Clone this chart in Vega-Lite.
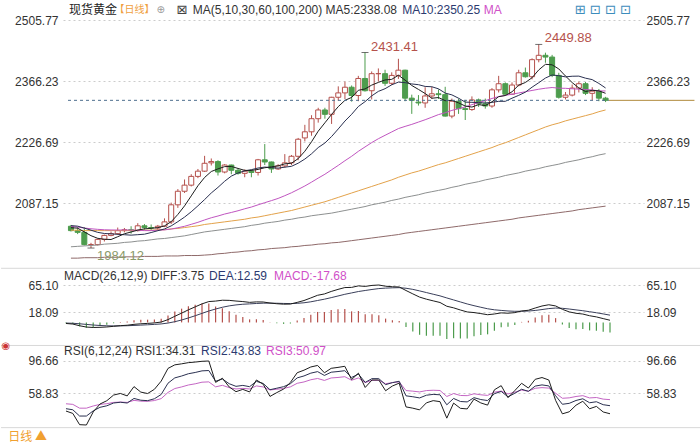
{
"$schema": "https://vega.github.io/schema/vega-lite/v6.json",
"padding": 0,
"spacing": 0,
"bounds": "flush",
"background": "#ffffff",
"config": {
  "view": {"stroke": null},
  "font": "Liberation Sans",
  "axis": {"labelFont": "Liberation Sans", "labelFontSize": 12, "labelColor": "#333333", "ticks": false, "domain": false, "title": null, "gridColor": "#cccccc", "gridDash": [2, 3], "gridWidth": 1}
},
"datasets": {
"k": [
{"i":0,"o":2034,"h":2037,"l":2022,"c":2024,"m5":2030.6,"m10":2035.4,"m30":2033.5,"m60":2025,"m100":1987,"m200":1961,"dif":-1.89,"dea":-1.18,"macd":-1.42,"r1":37.5,"r2":40.3,"r3":46.1},
{"i":1,"o":2024,"h":2032,"l":2016,"c":2020,"m5":2029.6,"m10":2034.2,"m30":2032.1,"m60":2025,"m100":1988,"m200":1961,"dif":-2.88,"dea":-1.52,"macd":-2.72,"r1":34.7,"r2":39.0,"r3":45.4},
{"i":2,"o":2020,"h":2032,"l":1990,"c":1992,"m5":2021.0,"m10":2029.7,"m30":2029.9,"m60":2024,"m100":1989,"m200":1962,"dif":-5.85,"dea":-2.39,"macd":-6.92,"r1":21.4,"r2":31.6,"r3":40.9},
{"i":3,"o":1992,"h":1996,"l":1984.12,"c":1992,"m5":2012.4,"m10":2025.0,"m30":2028.2,"m60":2024,"m100":1990,"m200":1962,"dif":-8.11,"dea":-3.53,"macd":-9.16,"r1":21.0,"r2":31.6,"r3":40.9},
{"i":4,"o":1992,"h":2006,"l":1990,"c":2004,"m5":2006.4,"m10":2020.0,"m30":2026.9,"m60":2024,"m100":1991,"m200":1962,"dif":-8.84,"dea":-4.59,"macd":-8.50,"r1":36.4,"r2":37.7,"r3":43.5},
{"i":5,"o":2004,"h":2015,"l":1999,"c":2013,"m5":2004.2,"m10":2017.4,"m30":2025.9,"m60":2024,"m100":1993,"m200":1963,"dif":-8.59,"dea":-5.39,"macd":-6.40,"r1":45.8,"r2":41.9,"r3":45.4},
{"i":6,"o":2013,"h":2022,"l":2011,"c":2017,"m5":2003.6,"m10":2016.6,"m30":2025.5,"m60":2024,"m100":1994,"m200":1963,"dif":-7.97,"dea":-5.91,"macd":-4.12,"r1":49.7,"r2":43.7,"r3":46.2},
{"i":7,"o":2017,"h":2031,"l":2014,"c":2024,"m5":2010.0,"m10":2015.5,"m30":2025.3,"m60":2024,"m100":1995,"m200":1963,"dif":-6.84,"dea":-6.10,"macd":-1.48,"r1":56.4,"r2":47.0,"r3":47.7},
{"i":8,"o":2024,"h":2030,"l":2020,"c":2026,"m5":2016.8,"m10":2014.6,"m30":2025.4,"m60":2024,"m100":1997,"m200":1964,"dif":-5.72,"dea":-6.02,"macd":0.60,"r1":58.3,"r2":47.9,"r3":48.1},
{"i":9,"o":2026,"h":2034,"l":2017,"c":2024,"m5":2020.8,"m10":2013.6,"m30":2025.2,"m60":2024,"m100":1998,"m200":1964,"dif":-4.93,"dea":-5.80,"macd":1.74,"r1":55.4,"r2":47.0,"r3":47.7},
{"i":10,"o":2024,"h":2041,"l":2022,"c":2035,"m5":2025.2,"m10":2014.7,"m30":2024.8,"m60":2025,"m100":2000,"m200":1964,"dif":-3.38,"dea":-5.32,"macd":3.88,"r1":66.4,"r2":52.4,"r3":50.1},
{"i":11,"o":2035,"h":2039,"l":2026,"c":2031,"m5":2028.0,"m10":2015.8,"m30":2024.0,"m60":2025,"m100":2001,"m200":1965,"dif":-2.44,"dea":-4.74,"macd":4.60,"r1":59.9,"r2":50.3,"r3":49.2},
{"i":12,"o":2031,"h":2038,"l":2025,"c":2030,"m5":2029.2,"m10":2019.6,"m30":2024.0,"m60":2025,"m100":2003,"m200":1965,"dif":-1.76,"dea":-4.14,"macd":4.76,"r1":58.2,"r2":49.8,"r3":49.0},
{"i":13,"o":2030,"h":2037,"l":2024,"c":2034,"m5":2030.8,"m10":2023.8,"m30":2025.0,"m60":2026,"m100":2005,"m200":1965,"dif":-0.89,"dea":-3.49,"macd":5.20,"r1":63.2,"r2":52.0,"r3":49.9},
{"i":14,"o":2034,"h":2052,"l":2032,"c":2044,"m5":2034.8,"m10":2027.8,"m30":2025.7,"m60":2026,"m100":2006,"m200":1966,"dif":0.59,"dea":-2.67,"macd":6.52,"r1":72.9,"r2":57.1,"r3":52.2},
{"i":15,"o":2044,"h":2088,"l":2039,"c":2083,"m5":2044.4,"m10":2034.8,"m30":2027.5,"m60":2028,"m100":2008,"m200":1966,"dif":4.86,"dea":-1.16,"macd":12.04,"r1":87.9,"r2":70.4,"r3":59.5},
{"i":16,"o":2083,"h":2119,"l":2076,"c":2114,"m5":2061.0,"m10":2044.5,"m30":2030.6,"m60":2029,"m100":2010,"m200":1966,"dif":10.62,"dea":1.20,"macd":18.84,"r1":92.1,"r2":76.7,"r3":64.1},
{"i":17,"o":2114,"h":2141,"l":2110,"c":2128,"m5":2080.6,"m10":2054.9,"m30":2033.9,"m60":2031,"m100":2012,"m200":1967,"dif":16.13,"dea":4.19,"macd":23.88,"r1":93.3,"r2":78.9,"r3":66.0},
{"i":18,"o":2128,"h":2153,"l":2125,"c":2148,"m5":2103.4,"m10":2067.1,"m30":2038.4,"m60":2033,"m100":2015,"m200":1967,"dif":21.85,"dea":7.72,"macd":28.26,"r1":94.7,"r2":81.6,"r3":68.3},
{"i":19,"o":2148,"h":2165,"l":2144,"c":2160,"m5":2126.6,"m10":2080.7,"m30":2043.0,"m60":2035,"m100":2018,"m200":1967,"dif":27.05,"dea":11.59,"macd":30.92,"r1":95.4,"r2":83.1,"r3":69.7},
{"i":20,"o":2160,"h":2195,"l":2158,"c":2178,"m5":2145.6,"m10":2095.0,"m30":2048.4,"m60":2038,"m100":2021,"m200":1968,"dif":32.24,"dea":15.72,"macd":33.04,"r1":96.3,"r2":85.0,"r3":71.6},
{"i":21,"o":2179,"h":2189,"l":2173,"c":2182,"m5":2159.2,"m10":2110.1,"m30":2053.4,"m60":2040,"m100":2023,"m200":1969,"dif":36.26,"dea":19.83,"macd":32.86,"r1":96.66,"r2":85.4,"r3":72.0},
{"i":22,"o":2182,"h":2185,"l":2150,"c":2158,"m5":2165.2,"m10":2122.9,"m30":2057.4,"m60":2042,"m100":2025,"m200":1971,"dif":37.09,"dea":23.28,"macd":27.62,"r1":71.4,"r2":72.7,"r3":66.1},
{"i":23,"o":2158,"h":2176,"l":2155,"c":2174,"m5":2170.4,"m10":2136.9,"m30":2061.9,"m60":2044,"m100":2027,"m200":1972,"dif":38.58,"dea":26.34,"macd":24.48,"r1":76.3,"r2":75.4,"r3":67.9},
{"i":24,"o":2174,"h":2175,"l":2153,"c":2162,"m5":2170.8,"m10":2148.7,"m30":2065.5,"m60":2046,"m100":2029,"m200":1974,"dif":38.36,"dea":28.74,"macd":19.24,"r1":66.0,"r2":69.8,"r3":65.2},
{"i":25,"o":2162,"h":2166,"l":2152,"c":2155,"m5":2166.2,"m10":2155.9,"m30":2069.4,"m60":2048,"m100":2031,"m200":1975,"dif":37.19,"dea":30.43,"macd":13.52,"r1":60.4,"r2":66.7,"r3":63.6},
{"i":26,"o":2155,"h":2164,"l":2146,"c":2160,"m5":2161.8,"m10":2160.5,"m30":2073.9,"m60":2050,"m100":2033,"m200":1977,"dif":36.25,"dea":31.59,"macd":9.32,"r1":63.1,"r2":67.8,"r3":64.3},
{"i":27,"o":2160,"h":2163,"l":2146,"c":2157,"m5":2161.6,"m10":2163.4,"m30":2077.9,"m60":2053,"m100":2036,"m200":1978,"dif":34.86,"dea":32.24,"macd":5.24,"r1":60.1,"r2":66.3,"r3":63.6},
{"i":28,"o":2157,"h":2188,"l":2150,"c":2186,"m5":2164.0,"m10":2167.2,"m30":2083.0,"m60":2055,"m100":2038,"m200":1980,"dif":35.69,"dea":32.93,"macd":5.52,"r1":74.2,"r2":72.6,"r3":67.2},
{"i":29,"o":2186,"h":2222,"l":2174,"c":2181,"m5":2167.8,"m10":2169.3,"m30":2087.9,"m60":2058,"m100":2041,"m200":1981,"dif":35.53,"dea":33.45,"macd":4.16,"r1":69.2,"r2":70.1,"r3":66.0},
{"i":30,"o":2181,"h":2182,"l":2156,"c":2165,"m5":2169.8,"m10":2168.0,"m30":2092.6,"m60":2061,"m100":2043,"m200":1983,"dif":33.73,"dea":33.51,"macd":0.44,"r1":54.8,"r2":62.7,"r3":62.4},
{"i":31,"o":2165,"h":2176,"l":2163,"c":2172,"m5":2172.2,"m10":2167.0,"m30":2097.6,"m60":2064,"m100":2045,"m200":1984,"dif":32.49,"dea":33.31,"macd":-1.64,"r1":59.3,"r2":64.5,"r3":63.3},
{"i":32,"o":2172,"h":2199,"l":2168,"c":2179,"m5":2176.6,"m10":2169.1,"m30":2103.9,"m60":2067,"m100":2048,"m200":1985,"dif":31.70,"dea":32.99,"macd":-2.58,"r1":63.5,"r2":66.3,"r3":64.2},
{"i":33,"o":2179,"h":2197,"l":2174,"c":2194,"m5":2178.2,"m10":2171.1,"m30":2110.6,"m60":2070,"m100":2050,"m200":1987,"dif":31.92,"dea":32.78,"macd":-1.72,"r1":71.3,"r2":69.8,"r3":66.1},
{"i":34,"o":2194,"h":2236,"l":2185,"c":2233,"m5":2188.6,"m10":2178.2,"m30":2118.2,"m60":2074,"m100":2053,"m200":1988,"dif":34.83,"dea":33.19,"macd":3.28,"r1":82.8,"r2":76.7,"r3":70.3},
{"i":35,"o":2236,"h":2266,"l":2228,"c":2250,"m5":2205.6,"m10":2187.7,"m30":2126.1,"m60":2078,"m100":2055,"m200":1990,"dif":38.07,"dea":34.17,"macd":7.80,"r1":85.8,"r2":79.0,"r3":71.9},
{"i":36,"o":2250,"h":2288,"l":2241,"c":2280,"m5":2227.2,"m10":2199.7,"m30":2134.9,"m60":2082,"m100":2058,"m200":1991,"dif":42.57,"dea":35.85,"macd":13.44,"r1":89.6,"r2":82.3,"r3":74.5},
{"i":37,"o":2280,"h":2305,"l":2271,"c":2300,"m5":2251.4,"m10":2214.0,"m30":2144.1,"m60":2086,"m100":2060,"m200":1993,"dif":47.21,"dea":38.12,"macd":18.18,"r1":91.4,"r2":84.1,"r3":76.0},
{"i":38,"o":2300,"h":2305,"l":2280,"c":2290,"m5":2270.6,"m10":2224.4,"m30":2152.9,"m60":2090,"m100":2062,"m200":1994,"dif":49.51,"dea":40.40,"macd":18.22,"r1":82.7,"r2":79.6,"r3":73.7},
{"i":39,"o":2290,"h":2330,"l":2268,"c":2329,"m5":2289.8,"m10":2239.2,"m30":2163.1,"m60":2095,"m100":2064,"m200":1996,"dif":53.85,"dea":43.09,"macd":21.52,"r1":88.0,"r2":83.4,"r3":76.6},
{"i":40,"o":2329,"h":2354,"l":2321,"c":2339,"m5":2307.6,"m10":2256.6,"m30":2173.2,"m60":2100,"m100":2067,"m200":1997,"dif":57.44,"dea":45.96,"macd":22.96,"r1":89.1,"r2":84.2,"r3":77.2},
{"i":41,"o":2339,"h":2365,"l":2325,"c":2352,"m5":2322.0,"m10":2274.6,"m30":2183.9,"m60":2105,"m100":2070,"m200":1999,"dif":60.63,"dea":48.89,"macd":23.48,"r1":90.4,"r2":85.2,"r3":78.1},
{"i":42,"o":2352,"h":2356,"l":2319,"c":2333,"m5":2328.6,"m10":2290.0,"m30":2194.0,"m60":2110,"m100":2073,"m200":2001,"dif":60.93,"dea":51.30,"macd":19.26,"r1":74.7,"r2":77.2,"r3":73.9},
{"i":43,"o":2333,"h":2378,"l":2320,"c":2372,"m5":2345.0,"m10":2307.8,"m30":2205.3,"m60":2115,"m100":2076,"m200":2003,"dif":63.57,"dea":53.75,"macd":19.64,"r1":82.3,"r2":81.2,"r3":76.6},
{"i":44,"o":2372,"h":2431.41,"l":2342,"c":2344,"m5":2348.0,"m10":2318.9,"m30":2215.3,"m60":2120,"m100":2079,"m200":2005,"dif":62.68,"dea":55.54,"macd":14.28,"r1":65.4,"r2":71.4,"r3":71.1},
{"i":45,"o":2344,"h":2388,"l":2324,"c":2383,"m5":2356.8,"m10":2332.2,"m30":2225.3,"m60":2125,"m100":2083,"m200":2007,"dif":64.39,"dea":57.31,"macd":14.16,"r1":74.2,"r2":75.8,"r3":73.8},
{"i":46,"o":2383,"h":2395,"l":2365,"c":2383,"m5":2363.0,"m10":2342.5,"m30":2234.2,"m60":2130,"m100":2086,"m200":2009,"dif":65.10,"dea":58.85,"macd":12.50,"r1":74.2,"r2":75.8,"r3":73.8},
{"i":47,"o":2383,"h":2392,"l":2355,"c":2361,"m5":2368.6,"m10":2348.6,"m30":2242.0,"m60":2135,"m100":2089,"m200":2011,"dif":62.96,"dea":59.67,"macd":6.58,"r1":61.5,"r2":68.7,"r3":69.8},
{"i":48,"o":2361,"h":2386,"l":2357,"c":2379,"m5":2370.0,"m10":2357.5,"m30":2249.7,"m60":2140,"m100":2093,"m200":2013,"dif":62.10,"dea":60.16,"macd":3.88,"r1":67.1,"r2":71.1,"r3":71.1},
{"i":49,"o":2379,"h":2417,"l":2371,"c":2391,"m5":2379.4,"m10":2363.7,"m30":2257.4,"m60":2146,"m100":2096,"m200":2015,"dif":61.66,"dea":60.46,"macd":2.40,"r1":70.5,"r2":72.7,"r3":72.0},
{"i":50,"o":2391,"h":2392,"l":2320,"c":2327,"m5":2368.2,"m10":2362.5,"m30":2262.4,"m60":2151,"m100":2100,"m200":2018,"dif":55.51,"dea":59.47,"macd":-7.92,"r1":42.4,"r2":55.5,"r3":61.7},
{"i":51,"o":2327,"h":2335,"l":2291,"c":2322,"m5":2356.0,"m10":2359.5,"m30":2267.0,"m60":2156,"m100":2103,"m200":2020,"dif":49.67,"dea":57.51,"macd":-15.68,"r1":40.9,"r2":54.4,"r3":61.0},
{"i":52,"o":2318,"h":2334,"l":2310,"c":2316,"m5":2347.0,"m10":2357.8,"m30":2272.3,"m60":2160,"m100":2106,"m200":2022,"dif":44.04,"dea":54.82,"macd":-21.56,"r1":38.9,"r2":53.0,"r3":60.1},
{"i":53,"o":2316,"h":2352,"l":2305,"c":2332,"m5":2337.6,"m10":2353.8,"m30":2277.6,"m60":2165,"m100":2110,"m200":2024,"dif":40.41,"dea":51.94,"macd":-23.06,"r1":47.2,"r2":56.2,"r3":61.7},
{"i":54,"o":2332,"h":2353,"l":2325,"c":2337,"m5":2326.8,"m10":2353.1,"m30":2283.4,"m60":2170,"m100":2113,"m200":2026,"dif":37.50,"dea":49.05,"macd":-23.10,"r1":49.8,"r2":57.2,"r3":62.1},
{"i":55,"o":2337,"h":2347,"l":2325,"c":2335,"m5":2328.4,"m10":2348.3,"m30":2289.4,"m60":2175,"m100":2116,"m200":2028,"dif":34.64,"dea":46.17,"macd":-23.06,"r1":48.6,"r2":56.7,"r3":61.8},
{"i":56,"o":2335,"h":2353,"l":2285,"c":2286,"m5":2321.2,"m10":2338.6,"m30":2293.6,"m60":2179,"m100":2119,"m200":2030,"dif":28.09,"dea":42.55,"macd":-28.92,"r1":29.1,"r2":44.9,"r3":54.7},
{"i":57,"o":2286,"h":2326,"l":2281,"c":2320,"m5":2322.0,"m10":2334.5,"m30":2299.0,"m60":2184,"m100":2123,"m200":2032,"dif":25.35,"dea":39.11,"macd":-27.52,"r1":46.9,"r2":52.4,"r3":58.2},
{"i":58,"o":2320,"h":2326,"l":2291,"c":2303,"m5":2316.2,"m10":2326.9,"m30":2302.9,"m60":2189,"m100":2126,"m200":2034,"dif":21.56,"dea":35.60,"macd":-28.08,"r1":40.7,"r2":48.8,"r3":55.9},
{"i":59,"o":2303,"h":2323,"l":2277,"c":2301,"m5":2309.0,"m10":2317.9,"m30":2306.9,"m60":2194,"m100":2130,"m200":2036,"dif":18.18,"dea":32.12,"macd":-27.88,"r1":40.0,"r2":48.3,"r3":55.7},
{"i":60,"o":2301,"h":2331,"l":2298,"c":2323,"m5":2306.6,"m10":2317.5,"m30":2312.2,"m60":2199,"m100":2133,"m200":2038,"dif":17.09,"dea":29.11,"macd":-24.04,"r1":51.6,"r2":53.3,"r3":57.9},
{"i":61,"o":2323,"h":2326,"l":2307,"c":2314,"m5":2312.2,"m10":2316.7,"m30":2316.9,"m60":2204,"m100":2136,"m200":2040,"dif":15.32,"dea":26.35,"macd":-22.06,"r1":47.1,"r2":51.1,"r3":56.7},
{"i":62,"o":2314,"h":2326,"l":2303,"c":2309,"m5":2310.0,"m10":2316.0,"m30":2321.3,"m60":2209,"m100":2140,"m200":2042,"dif":13.36,"dea":23.75,"macd":-20.78,"r1":44.5,"r2":49.9,"r3":56.0},
{"i":63,"o":2309,"h":2350,"l":2305,"c":2346,"m5":2318.6,"m10":2317.4,"m30":2326.3,"m60":2214,"m100":2143,"m200":2044,"dif":14.62,"dea":21.92,"macd":-14.60,"r1":62.6,"r2":58.0,"r3":59.8},
{"i":64,"o":2346,"h":2378,"l":2340,"c":2360,"m5":2330.4,"m10":2319.7,"m30":2330.6,"m60":2220,"m100":2146,"m200":2046,"dif":16.56,"dea":20.85,"macd":-8.58,"r1":67.5,"r2":60.7,"r3":61.1},
{"i":65,"o":2360,"h":2363,"l":2332,"c":2336,"m5":2333.0,"m10":2319.8,"m30":2333.4,"m60":2225,"m100":2150,"m200":2048,"dif":15.98,"dea":19.88,"macd":-7.80,"r1":53.3,"r2":54.3,"r3":57.7},
{"i":66,"o":2336,"h":2363,"l":2335,"c":2357,"m5":2341.6,"m10":2326.9,"m30":2336.0,"m60":2231,"m100":2153,"m200":2050,"dif":17.01,"dea":19.31,"macd":-4.60,"r1":61.7,"r2":58.5,"r3":59.8},
{"i":67,"o":2357,"h":2392,"l":2354,"c":2385,"m5":2356.8,"m10":2333.4,"m30":2338.8,"m60":2237,"m100":2156,"m200":2053,"dif":19.86,"dea":19.42,"macd":0.88,"r1":70.3,"r2":63.3,"r3":62.3},
{"i":68,"o":2385,"h":2397,"l":2374,"c":2376,"m5":2362.8,"m10":2340.7,"m30":2341.7,"m60":2243,"m100":2160,"m200":2055,"dif":21.14,"dea":19.76,"macd":2.76,"r1":64.7,"r2":60.8,"r3":61.0},
{"i":69,"o":2376,"h":2418,"l":2370,"c":2415,"m5":2373.8,"m10":2352.1,"m30":2344.6,"m60":2249,"m100":2163,"m200":2057,"dif":25.01,"dea":20.81,"macd":8.40,"r1":75.0,"r2":67.0,"r3":64.4},
{"i":70,"o":2415,"h":2449.88,"l":2409,"c":2425,"m5":2391.6,"m10":2362.3,"m30":2347.4,"m60":2255,"m100":2166,"m200":2059,"dif":28.56,"dea":22.36,"macd":12.40,"r1":77.1,"r2":68.4,"r3":65.2},
{"i":71,"o":2425,"h":2431,"l":2408,"c":2421,"m5":2404.4,"m10":2373.0,"m30":2349.7,"m60":2261,"m100":2170,"m200":2061,"dif":30.70,"dea":24.03,"macd":13.34,"r1":74.2,"r2":67.2,"r3":64.6},
{"i":72,"o":2421,"h":2426,"l":2375,"c":2379,"m5":2403.2,"m10":2380.0,"m30":2351.3,"m60":2266,"m100":2173,"m200":2063,"dif":28.67,"dea":24.96,"macd":7.42,"r1":50.1,"r2":55.6,"r3":58.6},
{"i":73,"o":2379,"h":2385,"l":2326,"c":2329,"m5":2393.8,"m10":2378.3,"m30":2349.8,"m60":2270,"m100":2176,"m200":2065,"dif":22.77,"dea":24.52,"macd":-3.50,"r1":34.2,"r2":45.5,"r3":52.6},
{"i":74,"o":2329,"h":2341,"l":2324,"c":2334,"m5":2377.6,"m10":2375.7,"m30":2349.5,"m60":2275,"m100":2180,"m200":2067,"dif":18.29,"dea":23.27,"macd":-9.96,"r1":36.6,"r2":46.6,"r3":53.1},
{"i":75,"o":2334,"h":2358,"l":2331,"c":2350,"m5":2362.6,"m10":2377.1,"m30":2348.4,"m60":2279,"m100":2183,"m200":2069,"dif":15.85,"dea":21.79,"macd":-11.88,"r1":44.4,"r2":50.0,"r3":54.7},
{"i":76,"o":2350,"h":2365,"l":2340,"c":2360,"m5":2350.4,"m10":2377.4,"m30":2347.6,"m60":2283,"m100":2186,"m200":2072,"dif":14.55,"dea":20.34,"macd":-11.58,"r1":49.1,"r2":52.0,"r3":55.7},
{"i":77,"o":2360,"h":2364,"l":2334,"c":2338,"m5":2342.2,"m10":2372.7,"m30":2346.9,"m60":2287,"m100":2190,"m200":2074,"dif":11.61,"dea":18.59,"macd":-13.96,"r1":40.2,"r2":47.3,"r3":53.0},
{"i":78,"o":2338,"h":2352,"l":2322,"c":2343,"m5":2345.0,"m10":2369.4,"m30":2345.7,"m60":2291,"m100":2193,"m200":2076,"dif":9.57,"dea":16.79,"macd":-14.44,"r1":43.0,"r2":48.5,"r3":53.5},
{"i":79,"o":2343,"h":2348,"l":2320,"c":2327,"m5":2343.6,"m10":2360.6,"m30":2343.5,"m60":2296,"m100":2197,"m200":2078,"dif":6.59,"dea":14.75,"macd":-16.32,"r1":36.4,"r2":45.0,"r3":51.6},
{"i":80,"o":2327,"h":2330,"l":2318,"c":2322,"m5":2338.08,"m10":2350.25,"m30":2343.4,"m60":2300,"m100":2200,"m200":2080,"dif":3.75,"dea":12.59,"macd":-17.68,"r1":34.31,"r2":43.83,"r3":50.97}
]
},
"vconcat": [
{
  "width": 581, "height": 268,
  "resolve": {"axis": {"y": "independent"}},
  "layer": [
    {"data": {"name": "k"}, "mark": {"type": "rule", "strokeWidth": 1},
     "encoding": {"x": {"field": "i", "type": "quantitative", "scale": {"domain": [-0.441, 85], "nice": false, "zero": false}, "axis": {"values": [15, 35, 57, 85], "labels": false, "grid": true, "minExtent": 0, "maxExtent": 0}},
      "y": {"field": "l", "type": "quantitative", "scale": {"domain": [1938.47, 2551.52], "nice": false, "zero": false}, "axis": {"orient": "left", "values": [2505.77, 2366.23, 2226.69, 2087.15], "format": ".2f", "grid": true, "labelPadding": 5, "minExtent": 62, "maxExtent": 62}},
      "y2": {"field": "h"},
      "color": {"condition": {"test": "datum.c >= datum.o", "value": "#b5514c"}, "value": "#4d9c4d"}}},
    {"data": {"name": "k"}, "mark": {"type": "bar", "width": 5, "strokeWidth": 1},
     "encoding": {"x": {"field": "i", "type": "quantitative", "scale": {"domain": [-0.441, 85], "nice": false, "zero": false}, "axis": null},
      "y": {"field": "o", "type": "quantitative", "scale": {"domain": [1938.47, 2551.52], "nice": false, "zero": false}, "axis": {"orient": "right", "values": [2505.77, 2366.23, 2226.69, 2087.15], "format": ".2f", "grid": false, "labelPadding": 2, "minExtent": 57, "maxExtent": 57}},
      "y2": {"field": "c"},
      "fill": {"condition": {"test": "datum.c >= datum.o", "value": "#ffffff"}, "value": "#4d9c4d"},
      "stroke": {"condition": {"test": "datum.c >= datum.o", "value": "#b5514c"}, "value": "#4d9c4d"}}},
    {"data": {"name": "k"}, "mark": {"type": "line", "color": "#8f6a6a", "strokeWidth": 1}, "encoding": {"x": {"field": "i", "type": "quantitative", "scale": {"domain": [-0.441, 85], "nice": false, "zero": false}, "axis": null}, "y": {"field": "m200", "type": "quantitative", "scale": {"domain": [1938.47, 2551.52], "nice": false, "zero": false}, "axis": null}}},
    {"data": {"name": "k"}, "mark": {"type": "line", "color": "#8d9090", "strokeWidth": 1}, "encoding": {"x": {"field": "i", "type": "quantitative", "scale": {"domain": [-0.441, 85], "nice": false, "zero": false}, "axis": null}, "y": {"field": "m100", "type": "quantitative", "scale": {"domain": [1938.47, 2551.52], "nice": false, "zero": false}, "axis": null}}},
    {"data": {"name": "k"}, "mark": {"type": "line", "color": "#e3a24a", "strokeWidth": 1}, "encoding": {"x": {"field": "i", "type": "quantitative", "scale": {"domain": [-0.441, 85], "nice": false, "zero": false}, "axis": null}, "y": {"field": "m60", "type": "quantitative", "scale": {"domain": [1938.47, 2551.52], "nice": false, "zero": false}, "axis": null}}},
    {"data": {"name": "k"}, "mark": {"type": "line", "color": "#c055c0", "strokeWidth": 1}, "encoding": {"x": {"field": "i", "type": "quantitative", "scale": {"domain": [-0.441, 85], "nice": false, "zero": false}, "axis": null}, "y": {"field": "m30", "type": "quantitative", "scale": {"domain": [1938.47, 2551.52], "nice": false, "zero": false}, "axis": null}}},
    {"data": {"name": "k"}, "mark": {"type": "line", "color": "#2a3050", "strokeWidth": 1}, "encoding": {"x": {"field": "i", "type": "quantitative", "scale": {"domain": [-0.441, 85], "nice": false, "zero": false}, "axis": null}, "y": {"field": "m10", "type": "quantitative", "scale": {"domain": [1938.47, 2551.52], "nice": false, "zero": false}, "axis": null}}},
    {"data": {"name": "k"}, "mark": {"type": "line", "color": "#1e1e1e", "strokeWidth": 1}, "encoding": {"x": {"field": "i", "type": "quantitative", "scale": {"domain": [-0.441, 85], "nice": false, "zero": false}, "axis": null}, "y": {"field": "m5", "type": "quantitative", "scale": {"domain": [1938.47, 2551.52], "nice": false, "zero": false}, "axis": null}}},
    {"data": {"name": "k"}, "transform": [{"filter": "datum.i == 80"}],
     "mark": {"type": "rule", "color": "#4f6f8f", "strokeDash": [3, 3], "strokeWidth": 1},
     "encoding": {"x": {"datum": -0.441, "type": "quantitative", "scale": {"domain": [-0.441, 85], "nice": false, "zero": false}, "axis": null}, "x2": {"datum": 80.5}, "y": {"field": "c", "type": "quantitative", "scale": {"domain": [1938.47, 2551.52], "nice": false, "zero": false}, "axis": null}}},
    {"data": {"name": "k"}, "transform": [{"filter": "datum.i == 80"}],
     "mark": {"type": "rule", "color": "#b08a3c", "strokeWidth": 1},
     "encoding": {"x": {"datum": 80.5, "type": "quantitative", "scale": {"domain": [-0.441, 85], "nice": false, "zero": false}, "axis": null}, "x2": {"datum": 93.3}, "y": {"field": "c", "type": "quantitative", "scale": {"domain": [1938.47, 2551.52], "nice": false, "zero": false}, "axis": null}}},
    {"data": {"name": "k"}, "transform": [{"filter": "datum.i == 44 || datum.i == 70"}],
     "mark": {"type": "tick", "orient": "horizontal", "size": 7, "thickness": 1, "color": "#333333"},
     "encoding": {"x": {"field": "i", "type": "quantitative", "scale": {"domain": [-0.441, 85], "nice": false, "zero": false}, "axis": null}, "y": {"field": "h", "type": "quantitative", "scale": {"domain": [1938.47, 2551.52], "nice": false, "zero": false}, "axis": null}}},
    {"data": {"name": "k"}, "transform": [{"filter": "datum.i == 3"}],
     "mark": {"type": "tick", "orient": "horizontal", "size": 7, "thickness": 1, "color": "#333333"},
     "encoding": {"x": {"field": "i", "type": "quantitative", "scale": {"domain": [-0.441, 85], "nice": false, "zero": false}, "axis": null}, "y": {"field": "l", "type": "quantitative", "scale": {"domain": [1938.47, 2551.52], "nice": false, "zero": false}, "axis": null}}},
    {"data": {"name": "k"}, "transform": [{"filter": "datum.i == 44 || datum.i == 70"}],
     "mark": {"type": "text", "align": "left", "baseline": "middle", "dx": 6, "dy": -6, "fontSize": 13, "color": "#b5524c", "font": "Liberation Sans"},
     "encoding": {"x": {"field": "i", "type": "quantitative", "scale": {"domain": [-0.441, 85], "nice": false, "zero": false}, "axis": null}, "y": {"field": "h", "type": "quantitative", "scale": {"domain": [1938.47, 2551.52], "nice": false, "zero": false}, "axis": null}, "text": {"field": "h", "type": "quantitative", "format": ".2f"}}},
    {"data": {"name": "k"}, "transform": [{"filter": "datum.i == 3"}],
     "mark": {"type": "text", "align": "left", "baseline": "middle", "dx": 6, "dy": 8, "fontSize": 13, "color": "#8a9a6a", "font": "Liberation Sans"},
     "encoding": {"x": {"field": "i", "type": "quantitative", "scale": {"domain": [-0.441, 85], "nice": false, "zero": false}, "axis": null}, "y": {"field": "l", "type": "quantitative", "scale": {"domain": [1938.47, 2551.52], "nice": false, "zero": false}, "axis": null}, "text": {"field": "l", "type": "quantitative", "format": ".2f"}}},
    {"data": {"values": [{}]}, "mark": {"type": "text", "align": "left", "baseline": "middle", "fontSize": 12, "color": "#222222", "font": "Noto Sans CJK SC", "text": "现货黄金"},
     "encoding": {"x": {"datum": -0.29, "type": "quantitative", "scale": {"domain": [-0.441, 85], "nice": false, "zero": false}, "axis": null}, "y": {"datum": 2528.6, "type": "quantitative", "scale": {"domain": [1938.47, 2551.52], "nice": false, "zero": false}, "axis": null}}},
    {"data": {"values": [{}]}, "mark": {"type": "text", "align": "left", "baseline": "middle", "fontSize": 10, "color": "#f0a040", "font": "Noto Sans CJK SC", "text": "【日线】"},
     "encoding": {"x": {"datum": 6.5, "type": "quantitative", "scale": {"domain": [-0.441, 85], "nice": false, "zero": false}, "axis": null}, "y": {"datum": 2528.6, "type": "quantitative", "scale": {"domain": [1938.47, 2551.52], "nice": false, "zero": false}, "axis": null}}},
    {"data": {"values": [{}]}, "mark": {"type": "text", "align": "left", "baseline": "middle", "fontSize": 10, "color": "#999999", "font": "DejaVu Sans", "text": "⊕"},
     "encoding": {"x": {"datum": 12.8, "type": "quantitative", "scale": {"domain": [-0.441, 85], "nice": false, "zero": false}, "axis": null}, "y": {"datum": 2528.6, "type": "quantitative", "scale": {"domain": [1938.47, 2551.52], "nice": false, "zero": false}, "axis": null}}},
    {"data": {"values": [{}]}, "mark": {"type": "text", "align": "left", "baseline": "middle", "fontSize": 13, "color": "#444444", "font": "DejaVu Sans", "text": "⊠"},
     "encoding": {"x": {"datum": 15.8, "type": "quantitative", "scale": {"domain": [-0.441, 85], "nice": false, "zero": false}, "axis": null}, "y": {"datum": 2528.6, "type": "quantitative", "scale": {"domain": [1938.47, 2551.52], "nice": false, "zero": false}, "axis": null}}},
    {"data": {"values": [{}]}, "mark": {"type": "text", "align": "left", "baseline": "middle", "fontSize": 12, "color": "#333333", "text": "MA(5,10,30,60,100,200) MA5:2338.08"},
     "encoding": {"x": {"datum": 18.24, "type": "quantitative", "scale": {"domain": [-0.441, 85], "nice": false, "zero": false}, "axis": null}, "y": {"datum": 2528.6, "type": "quantitative", "scale": {"domain": [1938.47, 2551.52], "nice": false, "zero": false}, "axis": null}}},
    {"data": {"values": [{}]}, "mark": {"type": "text", "align": "left", "baseline": "middle", "fontSize": 12, "color": "#2c3a70", "text": "MA10:2350.25"},
     "encoding": {"x": {"datum": 49.56, "type": "quantitative", "scale": {"domain": [-0.441, 85], "nice": false, "zero": false}, "axis": null}, "y": {"datum": 2528.6, "type": "quantitative", "scale": {"domain": [1938.47, 2551.52], "nice": false, "zero": false}, "axis": null}}},
    {"data": {"values": [{}]}, "mark": {"type": "text", "align": "left", "baseline": "middle", "fontSize": 12, "color": "#d050c8", "text": "MA"},
     "encoding": {"x": {"datum": 61.76, "type": "quantitative", "scale": {"domain": [-0.441, 85], "nice": false, "zero": false}, "axis": null}, "y": {"datum": 2528.6, "type": "quantitative", "scale": {"domain": [1938.47, 2551.52], "nice": false, "zero": false}, "axis": null}}},
    {"data": {"values": [{}]}, "mark": {"type": "text", "align": "left", "baseline": "middle", "fontSize": 13, "color": "#3c8dbc", "font": "DejaVu Sans", "text": "⊞ ⊡ ⊡ ⊡"},
     "encoding": {"x": {"datum": 75.4, "type": "quantitative", "scale": {"domain": [-0.441, 85], "nice": false, "zero": false}, "axis": null}, "y": {"datum": 2528.6, "type": "quantitative", "scale": {"domain": [1938.47, 2551.52], "nice": false, "zero": false}, "axis": null}}}
  ]
},
{
  "width": 581, "height": 77,
  "resolve": {"axis": {"y": "independent"}},
  "layer": [
    {"data": {"values": [{}]}, "mark": {"type": "rule", "color": "#d8d8d8", "strokeWidth": 1},
     "encoding": {"x": {"datum": -9.55, "type": "quantitative", "scale": {"domain": [-0.441, 85], "nice": false, "zero": false}, "axis": null}, "x2": {"datum": 93.3}, "y": {"datum": 94.2, "type": "quantitative", "scale": {"domain": [-39.36, 94.70], "nice": false, "zero": false}, "axis": null}}},
    {"data": {"name": "k"}, "mark": {"type": "rule", "strokeWidth": 1.2},
     "encoding": {"x": {"field": "i", "type": "quantitative", "scale": {"domain": [-0.441, 85], "nice": false, "zero": false}, "axis": {"values": [15, 35, 57, 85], "labels": false, "grid": true, "minExtent": 0, "maxExtent": 0}},
      "y": {"field": "macd", "type": "quantitative", "scale": {"domain": [-39.36, 94.70], "nice": false, "zero": false}, "axis": {"orient": "left", "values": [65.10, 18.09], "format": ".2f", "grid": true, "labelPadding": 5, "minExtent": 62, "maxExtent": 62}},
      "y2": {"datum": 0},
      "color": {"condition": {"test": "datum.macd >= 0", "value": "#b5514c"}, "value": "#4d9c4d"}}},
    {"data": {"name": "k"}, "mark": {"type": "line", "color": "#3a3f5a", "strokeWidth": 1},
     "encoding": {"x": {"field": "i", "type": "quantitative", "scale": {"domain": [-0.441, 85], "nice": false, "zero": false}, "axis": null},
      "y": {"field": "dea", "type": "quantitative", "scale": {"domain": [-39.36, 94.70], "nice": false, "zero": false}, "axis": {"orient": "right", "values": [65.10, 18.09], "format": ".2f", "grid": false, "labelPadding": 2, "minExtent": 57, "maxExtent": 57}}}},
    {"data": {"name": "k"}, "mark": {"type": "line", "color": "#1e1e1e", "strokeWidth": 1},
     "encoding": {"x": {"field": "i", "type": "quantitative", "scale": {"domain": [-0.441, 85], "nice": false, "zero": false}, "axis": null},
      "y": {"field": "dif", "type": "quantitative", "scale": {"domain": [-39.36, 94.70], "nice": false, "zero": false}, "axis": null}}},
    {"data": {"values": [{}]}, "mark": {"type": "text", "align": "left", "baseline": "middle", "fontSize": 12, "color": "#333333", "text": "MACD(26,12,9) DIFF:3.75"},
     "encoding": {"x": {"datum": -0.29, "type": "quantitative", "scale": {"domain": [-0.441, 85], "nice": false, "zero": false}, "axis": null}, "y": {"datum": 80.77, "type": "quantitative", "scale": {"domain": [-39.36, 94.70], "nice": false, "zero": false}, "axis": null}}},
    {"data": {"values": [{}]}, "mark": {"type": "text", "align": "left", "baseline": "middle", "fontSize": 12, "color": "#2c3a70", "text": "DEA:12.59"},
     "encoding": {"x": {"datum": 21.03, "type": "quantitative", "scale": {"domain": [-0.441, 85], "nice": false, "zero": false}, "axis": null}, "y": {"datum": 80.77, "type": "quantitative", "scale": {"domain": [-39.36, 94.70], "nice": false, "zero": false}, "axis": null}}},
    {"data": {"values": [{}]}, "mark": {"type": "text", "align": "left", "baseline": "middle", "fontSize": 12, "color": "#d050c8", "text": "MACD:-17.68"},
     "encoding": {"x": {"datum": 30.59, "type": "quantitative", "scale": {"domain": [-0.441, 85], "nice": false, "zero": false}, "axis": null}, "y": {"datum": 80.77, "type": "quantitative", "scale": {"domain": [-39.36, 94.70], "nice": false, "zero": false}, "axis": null}}}
  ]
},
{
  "width": 581, "height": 83,
  "resolve": {"axis": {"y": "independent"}},
  "layer": [
    {"data": {"values": [{}]}, "mark": {"type": "rule", "color": "#d8d8d8", "strokeWidth": 1},
     "encoding": {"x": {"datum": -9.55, "type": "quantitative", "scale": {"domain": [-0.441, 85], "nice": false, "zero": false}, "axis": null}, "x2": {"datum": 93.3}, "y": {"datum": 115.0, "type": "quantitative", "scale": {"domain": [17.46, 115.57], "nice": false, "zero": false}, "axis": null}}},
    {"data": {"values": [{}]}, "mark": {"type": "rule", "color": "#d8d8d8", "strokeWidth": 1},
     "encoding": {"x": {"datum": -9.55, "type": "quantitative", "scale": {"domain": [-0.441, 85], "nice": false, "zero": false}, "axis": null}, "x2": {"datum": 93.3}, "y": {"datum": 17.9, "type": "quantitative", "scale": {"domain": [17.46, 115.57], "nice": false, "zero": false}, "axis": null}}},
    {"data": {"name": "k"}, "mark": {"type": "line", "color": "#c466c4", "strokeWidth": 1},
     "encoding": {"x": {"field": "i", "type": "quantitative", "scale": {"domain": [-0.441, 85], "nice": false, "zero": false},
        "axis": {"values": [15, 35, 57, 85], "labelExpr": "datum.value == 15 ? '2024/03' : datum.value == 35 ? '2024/04' : datum.value == 57 ? '2024/05' : ''", "labelAlign": "left", "labelOffset": 3, "labelPadding": 3, "labelFontWeight": "bold", "labelColor": "#444444", "grid": true, "minExtent": 18, "maxExtent": 18}},
      "y": {"field": "r3", "type": "quantitative", "scale": {"domain": [17.46, 115.57], "nice": false, "zero": false}, "axis": {"orient": "left", "values": [96.66, 58.83], "format": ".2f", "grid": true, "labelPadding": 5, "minExtent": 62, "maxExtent": 62}}}},
    {"data": {"name": "k"}, "mark": {"type": "line", "color": "#2a3050", "strokeWidth": 1},
     "encoding": {"x": {"field": "i", "type": "quantitative", "scale": {"domain": [-0.441, 85], "nice": false, "zero": false}, "axis": null},
      "y": {"field": "r2", "type": "quantitative", "scale": {"domain": [17.46, 115.57], "nice": false, "zero": false}, "axis": {"orient": "right", "values": [96.66, 58.83], "format": ".2f", "grid": false, "labelPadding": 2, "minExtent": 57, "maxExtent": 57}}}},
    {"data": {"name": "k"}, "mark": {"type": "line", "color": "#1e1e1e", "strokeWidth": 1},
     "encoding": {"x": {"field": "i", "type": "quantitative", "scale": {"domain": [-0.441, 85], "nice": false, "zero": false}, "axis": null},
      "y": {"field": "r1", "type": "quantitative", "scale": {"domain": [17.46, 115.57], "nice": false, "zero": false}, "axis": null}}},
    {"data": {"values": [{}]}, "mark": {"type": "text", "align": "left", "baseline": "middle", "fontSize": 12, "color": "#333333", "text": "RSI(6,12,24) RSI1:34.31"},
     "encoding": {"x": {"datum": -0.29, "type": "quantitative", "scale": {"domain": [-0.441, 85], "nice": false, "zero": false}, "axis": null}, "y": {"datum": 108.5, "type": "quantitative", "scale": {"domain": [17.46, 115.57], "nice": false, "zero": false}, "axis": null}}},
    {"data": {"values": [{}]}, "mark": {"type": "text", "align": "left", "baseline": "middle", "fontSize": 12, "color": "#2c3a70", "text": "RSI2:43.83"},
     "encoding": {"x": {"datum": 19.85, "type": "quantitative", "scale": {"domain": [-0.441, 85], "nice": false, "zero": false}, "axis": null}, "y": {"datum": 108.5, "type": "quantitative", "scale": {"domain": [17.46, 115.57], "nice": false, "zero": false}, "axis": null}}},
    {"data": {"values": [{}]}, "mark": {"type": "text", "align": "left", "baseline": "middle", "fontSize": 12, "color": "#d050c8", "text": "RSI3:50.97"},
     "encoding": {"x": {"datum": 29.41, "type": "quantitative", "scale": {"domain": [-0.441, 85], "nice": false, "zero": false}, "axis": null}, "y": {"datum": 108.5, "type": "quantitative", "scale": {"domain": [17.46, 115.57], "nice": false, "zero": false}, "axis": null}}},
    {"data": {"values": [{}]}, "mark": {"type": "text", "align": "center", "baseline": "middle", "fontSize": 10, "color": "#cc3333", "font": "DejaVu Sans", "text": "◉"},
     "encoding": {"x": {"datum": -8.85, "type": "quantitative", "scale": {"domain": [-0.441, 85], "nice": false, "zero": false}, "axis": null}, "y": {"datum": 114.2, "type": "quantitative", "scale": {"domain": [17.46, 115.57], "nice": false, "zero": false}, "axis": null}}},
    {"data": {"values": [{}]}, "mark": {"type": "text", "align": "left", "baseline": "middle", "fontSize": 12, "color": "#f0a030", "font": "Noto Sans CJK SC", "text": "日线 ▲"},
     "encoding": {"x": {"datum": -8.5, "type": "quantitative", "scale": {"domain": [-0.441, 85], "nice": false, "zero": false}, "axis": null}, "y": {"datum": 7.0, "type": "quantitative", "scale": {"domain": [17.46, 115.57], "nice": false, "zero": false}, "axis": null}}}
  ]
}
]
}
